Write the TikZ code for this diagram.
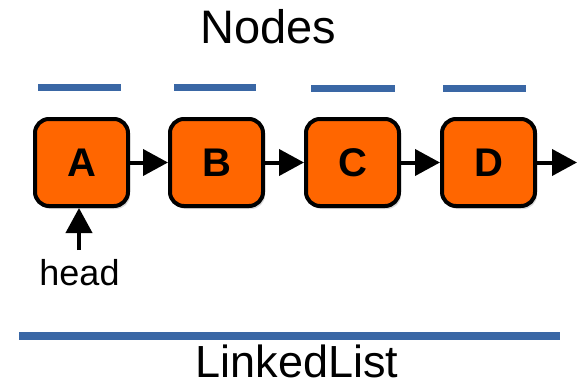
\documentclass[tikz,border=0pt]{standalone}
\usepackage{fontspec}
\setmainfont{Liberation Sans}
\usetikzlibrary{arrows.meta,shadows}
\definecolor{listblue}{HTML}{3A67A5}
\definecolor{nodeorange}{HTML}{FF6600}
\tikzset{
  listnode/.style={draw=black, line width=4pt, fill=nodeorange, rounded corners=14pt,
    minimum width=93pt, minimum height=87pt, inner sep=0pt,
    font=\fontsize{40}{44}\selectfont\bfseries,
    drop shadow={shadow xshift=2pt, shadow yshift=-3pt, opacity=0.15, fill=black}},
  link/.style={line width=4pt, -{Triangle[length=25pt,width=26pt]}},
  bar/.style={draw=listblue, line width=7pt},
  lbl/.style={anchor=base, inner sep=0pt}
}
\begin{document}
\begin{tikzpicture}[x=1pt,y=-1pt]
\useasboundingbox (0,0) rectangle (577,383);
% titles
\node[lbl, font=\fontsize{47}{50}\selectfont] (nodes) at (268.5,43) {Nodes};
\node[lbl, font=\fontsize{45}{48}\selectfont] (ll) at (297,377) {LinkedList};
% blue bars
\draw[bar] (38,87) -- (121,87);
\draw[bar] (174,87) -- (256,87);
\draw[bar] (311,88) -- (395,88);
\draw[bar] (443,88) -- (526,88);
\draw[bar, line width=8pt] (19,335.5) -- (560,335.5);
% list nodes
\node[listnode] (A) at (81.5,162.5) {A};
\node[listnode] (B) at (216.5,162.5) {B};
\node[listnode] (C) at (352.5,162.5) {C};
\node[listnode] (D) at (488.5,162.5) {D};
\coordinate (tail) at (577,162.5);
\draw[link] (A.east) -- (B.west);
\draw[link] (B.east) -- (C.west);
\draw[link] (C.east) -- (D.west);
\draw[link] (D.east) -- (tail);
% head pointer
\node[lbl, font=\fontsize{36}{40}\selectfont] (head) at (79.5,285) {head};
\coordinate (hb) at (79,250);
\draw[link] (hb) -- (hb |- A.south);
\end{tikzpicture}
\end{document}
